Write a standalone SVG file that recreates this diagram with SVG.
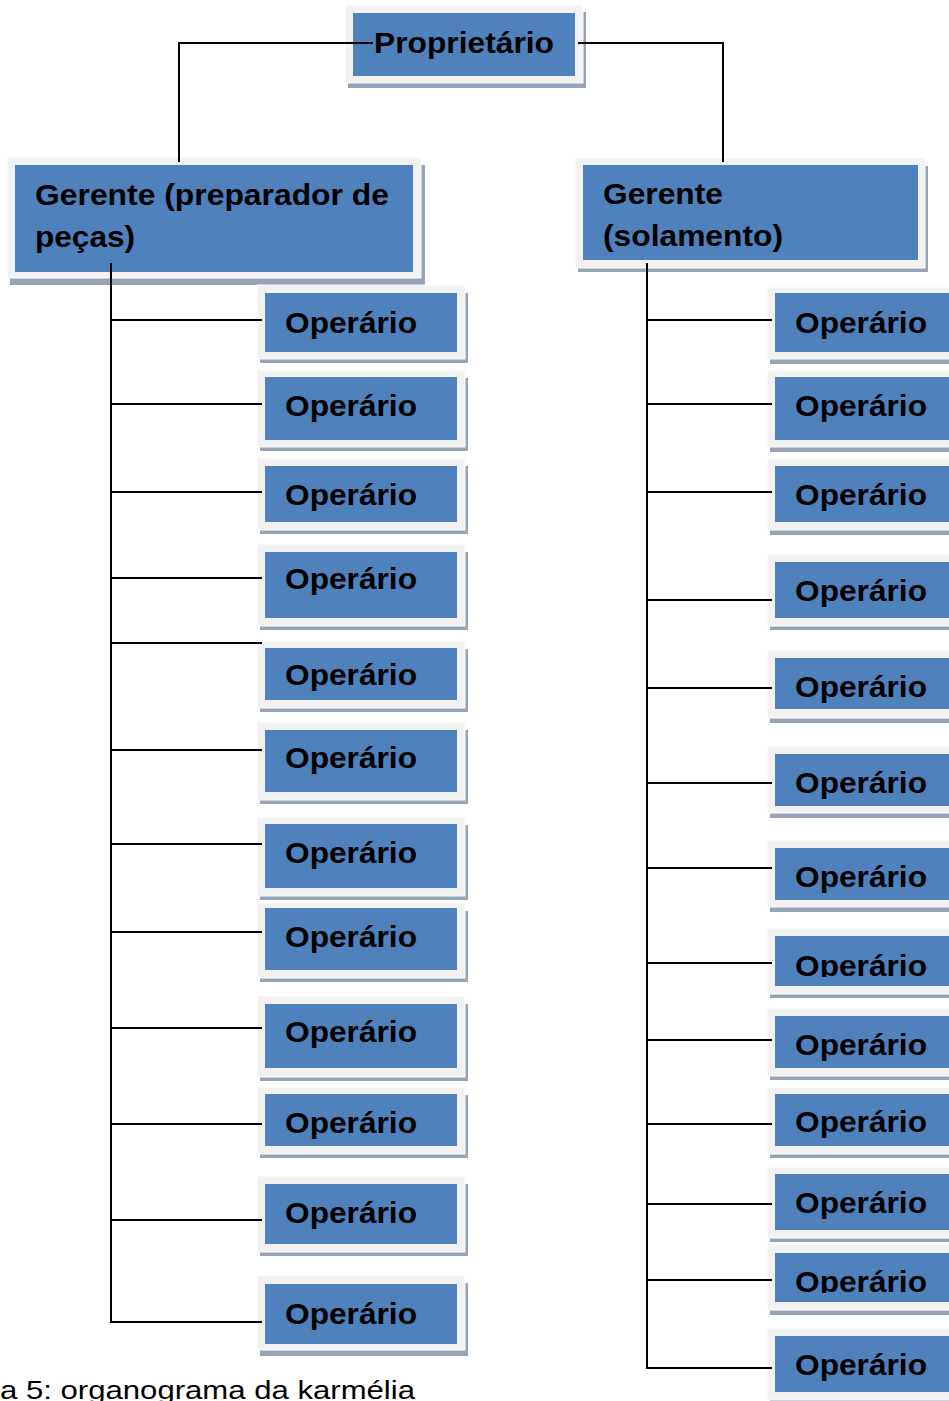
<svg xmlns="http://www.w3.org/2000/svg" width="949" height="1401" viewBox="0 0 949 1401">
  <style>
    .shadow { fill: #97a3b6; }
    .frame { fill: #f2f2f2; stroke: #ffffff; stroke-width: 1; }
    .fill { fill: #4f81bd; }
    .label { font-family: "Liberation Sans", Arial, sans-serif; font-weight: bold; font-size: 30px; fill: #000000; }
    .caption { font-family: "Liberation Sans", Arial, sans-serif; font-size: 26px; fill: #000000; }
    .wire { fill: none; stroke: #000000; stroke-width: 2; }
  </style>
  <defs>
    <clipPath id="clip-r8"><rect x="767" y="920" width="200" height="57"/></clipPath>
    <clipPath id="clip-r12"><rect x="767" y="1240" width="200" height="53"/></clipPath>
  </defs>
  <rect width="949" height="1401" fill="#ffffff"/>

  <!-- top level -->
  <g id="proprietario">
    <rect class="shadow" x="348" y="12" width="238" height="76"/>
    <rect class="frame" x="345" y="5" width="238" height="78"/>
    <rect class="fill" x="353" y="13" width="222" height="63"/>
    <text class="label" x="374" y="53" textLength="180" lengthAdjust="spacingAndGlyphs">Proprietário</text>
  </g>

  <!-- managers -->
  <g id="gerente-pecas">
    <rect class="shadow" x="10" y="165" width="415" height="120"/>
    <rect class="frame" x="7" y="157" width="414" height="121"/>
    <rect class="fill" x="15" y="165" width="398" height="107"/>
    <text class="label" x="35" y="205" textLength="354" lengthAdjust="spacingAndGlyphs">Gerente (preparador de</text>
    <text class="label" x="35" y="247" textLength="100" lengthAdjust="spacingAndGlyphs">peças)</text>
  </g>
  <g id="gerente-solamento">
    <rect class="shadow" x="578" y="166" width="350" height="106"/>
    <rect class="frame" x="575" y="158" width="350" height="110"/>
    <rect class="fill" x="583" y="165" width="335" height="95"/>
    <text class="label" x="603" y="204" textLength="120" lengthAdjust="spacingAndGlyphs">Gerente</text>
    <text class="label" x="603" y="246" textLength="180" lengthAdjust="spacingAndGlyphs">(solamento)</text>
  </g>

  <!-- workers under the parts manager -->
  <g id="op-l1"><rect class="shadow" x="260" y="293" width="208" height="70"/><rect class="frame" x="257" y="285" width="208" height="74"/><rect class="fill" x="265" y="293" width="192" height="59"/><text class="label" x="285" y="333" textLength="132" lengthAdjust="spacingAndGlyphs">Operário</text></g>
  <g id="op-l2"><rect class="shadow" x="260" y="378" width="208" height="73"/><rect class="frame" x="257" y="370" width="208" height="77"/><rect class="fill" x="265" y="377" width="192" height="63"/><text class="label" x="285" y="416" textLength="132" lengthAdjust="spacingAndGlyphs">Operário</text></g>
  <g id="op-l3"><rect class="shadow" x="260" y="466" width="208" height="68"/><rect class="frame" x="257" y="458" width="208" height="72"/><rect class="fill" x="265" y="466" width="192" height="56"/><text class="label" x="285" y="505" textLength="132" lengthAdjust="spacingAndGlyphs">Operário</text></g>
  <g id="op-l4"><rect class="shadow" x="260" y="552" width="208" height="78"/><rect class="frame" x="257" y="544" width="208" height="82"/><rect class="fill" x="265" y="552" width="192" height="66"/><text class="label" x="285" y="589" textLength="132" lengthAdjust="spacingAndGlyphs">Operário</text></g>
  <g id="op-l5"><rect class="shadow" x="260" y="649" width="208" height="63"/><rect class="frame" x="257" y="641" width="208" height="67"/><rect class="fill" x="265" y="648" width="192" height="52"/><text class="label" x="285" y="685" textLength="132" lengthAdjust="spacingAndGlyphs">Operário</text></g>
  <g id="op-l6"><rect class="shadow" x="260" y="730" width="208" height="74"/><rect class="frame" x="257" y="722" width="208" height="78"/><rect class="fill" x="265" y="730" width="192" height="62"/><text class="label" x="285" y="768" textLength="132" lengthAdjust="spacingAndGlyphs">Operário</text></g>
  <g id="op-l7"><rect class="shadow" x="260" y="825" width="208" height="75"/><rect class="frame" x="257" y="817" width="208" height="79"/><rect class="fill" x="265" y="824" width="192" height="64"/><text class="label" x="285" y="863" textLength="132" lengthAdjust="spacingAndGlyphs">Operário</text></g>
  <g id="op-l8"><rect class="shadow" x="260" y="911" width="208" height="71"/><rect class="frame" x="257" y="903" width="208" height="75"/><rect class="fill" x="265" y="908" width="192" height="62"/><text class="label" x="285" y="947" textLength="132" lengthAdjust="spacingAndGlyphs">Operário</text></g>
  <g id="op-l9"><rect class="shadow" x="260" y="1004" width="208" height="77"/><rect class="frame" x="257" y="996" width="208" height="81"/><rect class="fill" x="265" y="1004" width="192" height="64"/><text class="label" x="285" y="1042" textLength="132" lengthAdjust="spacingAndGlyphs">Operário</text></g>
  <g id="op-l10"><rect class="shadow" x="260" y="1095" width="208" height="63"/><rect class="frame" x="257" y="1087" width="208" height="67"/><rect class="fill" x="265" y="1094" width="192" height="52"/><text class="label" x="285" y="1133" textLength="132" lengthAdjust="spacingAndGlyphs">Operário</text></g>
  <g id="op-l11"><rect class="shadow" x="260" y="1184" width="208" height="72"/><rect class="frame" x="257" y="1176" width="208" height="76"/><rect class="fill" x="265" y="1184" width="192" height="60"/><text class="label" x="285" y="1223" textLength="132" lengthAdjust="spacingAndGlyphs">Operário</text></g>
  <g id="op-l12"><rect class="shadow" x="260" y="1283" width="208" height="73"/><rect class="frame" x="257" y="1275" width="208" height="75"/><rect class="fill" x="265" y="1284" width="192" height="60"/><text class="label" x="285" y="1324" textLength="132" lengthAdjust="spacingAndGlyphs">Operário</text></g>

  <!-- workers under the insulation manager -->
  <g id="op-r1"><rect class="shadow" x="770" y="295" width="208" height="69"/><rect class="frame" x="767" y="287" width="208" height="72"/><rect class="fill" x="775" y="293" width="192" height="59"/><text class="label" x="795" y="333" textLength="132" lengthAdjust="spacingAndGlyphs">Operário</text></g>
  <g id="op-r2"><rect class="shadow" x="770" y="378" width="208" height="74"/><rect class="frame" x="767" y="370" width="208" height="77"/><rect class="fill" x="775" y="377" width="192" height="63"/><text class="label" x="795" y="416" textLength="132" lengthAdjust="spacingAndGlyphs">Operário</text></g>
  <g id="op-r3"><rect class="shadow" x="770" y="466" width="208" height="69"/><rect class="frame" x="767" y="458" width="208" height="72"/><rect class="fill" x="775" y="466" width="192" height="56"/><text class="label" x="795" y="505" textLength="132" lengthAdjust="spacingAndGlyphs">Operário</text></g>
  <g id="op-r4"><rect class="shadow" x="770" y="562" width="208" height="68"/><rect class="frame" x="767" y="554" width="208" height="72"/><rect class="fill" x="775" y="562" width="192" height="56"/><text class="label" x="795" y="601" textLength="132" lengthAdjust="spacingAndGlyphs">Operário</text></g>
  <g id="op-r5"><rect class="shadow" x="770" y="658" width="208" height="65"/><rect class="frame" x="767" y="650" width="208" height="68"/><rect class="fill" x="775" y="658" width="192" height="51"/><text class="label" x="795" y="697" textLength="132" lengthAdjust="spacingAndGlyphs">Operário</text></g>
  <g id="op-r6"><rect class="shadow" x="770" y="754" width="208" height="64"/><rect class="frame" x="767" y="746" width="208" height="67"/><rect class="fill" x="775" y="754" width="192" height="52"/><text class="label" x="795" y="793" textLength="132" lengthAdjust="spacingAndGlyphs">Operário</text></g>
  <g id="op-r7"><rect class="shadow" x="770" y="848" width="208" height="64"/><rect class="frame" x="767" y="840" width="208" height="67"/><rect class="fill" x="775" y="848" width="192" height="52"/><text class="label" x="795" y="887" textLength="132" lengthAdjust="spacingAndGlyphs">Operário</text></g>
  <g id="op-r8"><rect class="shadow" x="770" y="936" width="208" height="62"/><rect class="frame" x="767" y="928" width="208" height="66"/><rect class="fill" x="775" y="936" width="192" height="50"/><text class="label" x="795" y="976" textLength="132" lengthAdjust="spacingAndGlyphs" clip-path="url(#clip-r8)">Operário</text></g>
  <g id="op-r9"><rect class="shadow" x="770" y="1016" width="208" height="64"/><rect class="frame" x="767" y="1008" width="208" height="68"/><rect class="fill" x="775" y="1016" width="192" height="52"/><text class="label" x="795" y="1055" textLength="132" lengthAdjust="spacingAndGlyphs">Operário</text></g>
  <g id="op-r10"><rect class="shadow" x="770" y="1095" width="208" height="63"/><rect class="frame" x="767" y="1087" width="208" height="67"/><rect class="fill" x="775" y="1094" width="192" height="52"/><text class="label" x="795" y="1132" textLength="132" lengthAdjust="spacingAndGlyphs">Operário</text></g>
  <g id="op-r11"><rect class="shadow" x="770" y="1175" width="208" height="67"/><rect class="frame" x="767" y="1167" width="208" height="71"/><rect class="fill" x="775" y="1174" width="192" height="56"/><text class="label" x="795" y="1213" textLength="132" lengthAdjust="spacingAndGlyphs">Operário</text></g>
  <g id="op-r12"><rect class="shadow" x="770" y="1252" width="208" height="63"/><rect class="frame" x="767" y="1244" width="208" height="66"/><rect class="fill" x="775" y="1253" width="192" height="49"/><text class="label" x="795" y="1292" textLength="132" lengthAdjust="spacingAndGlyphs" clip-path="url(#clip-r12)">Operário</text></g>
  <g id="op-r13"><rect class="shadow" x="770" y="1336" width="208" height="70"/><rect class="frame" x="767" y="1328" width="208" height="72"/><rect class="fill" x="775" y="1336" width="192" height="56"/><text class="label" x="795" y="1375" textLength="132" lengthAdjust="spacingAndGlyphs">Operário</text></g>

  <!-- connectors -->
  <g id="connectors" class="wire">
    <path d="M179,162 V43 H373"/>
    <path d="M578,43 H723 V162"/>
    <path d="M111,263 V1322 H262"/>
    <path d="M111,320 H262 M111,404 H262 M111,492 H262 M111,578 H262 M111,643 H262 M111,750 H262 M111,844 H262 M111,932 H262 M111,1028 H262 M111,1124 H262 M111,1220 H262"/>
    <path d="M647,263 V1368 H772"/>
    <path d="M647,320 H772 M647,404 H772 M647,492 H772 M647,600 H772 M647,688 H772 M647,783 H772 M647,868 H772 M647,963 H772 M647,1040 H772 M647,1124 H772 M647,1204 H772 M647,1280 H772"/>
  </g>

  <text class="caption" x="0" y="1399" textLength="415" lengthAdjust="spacingAndGlyphs">a 5: organograma da karmélia</text>
</svg>
